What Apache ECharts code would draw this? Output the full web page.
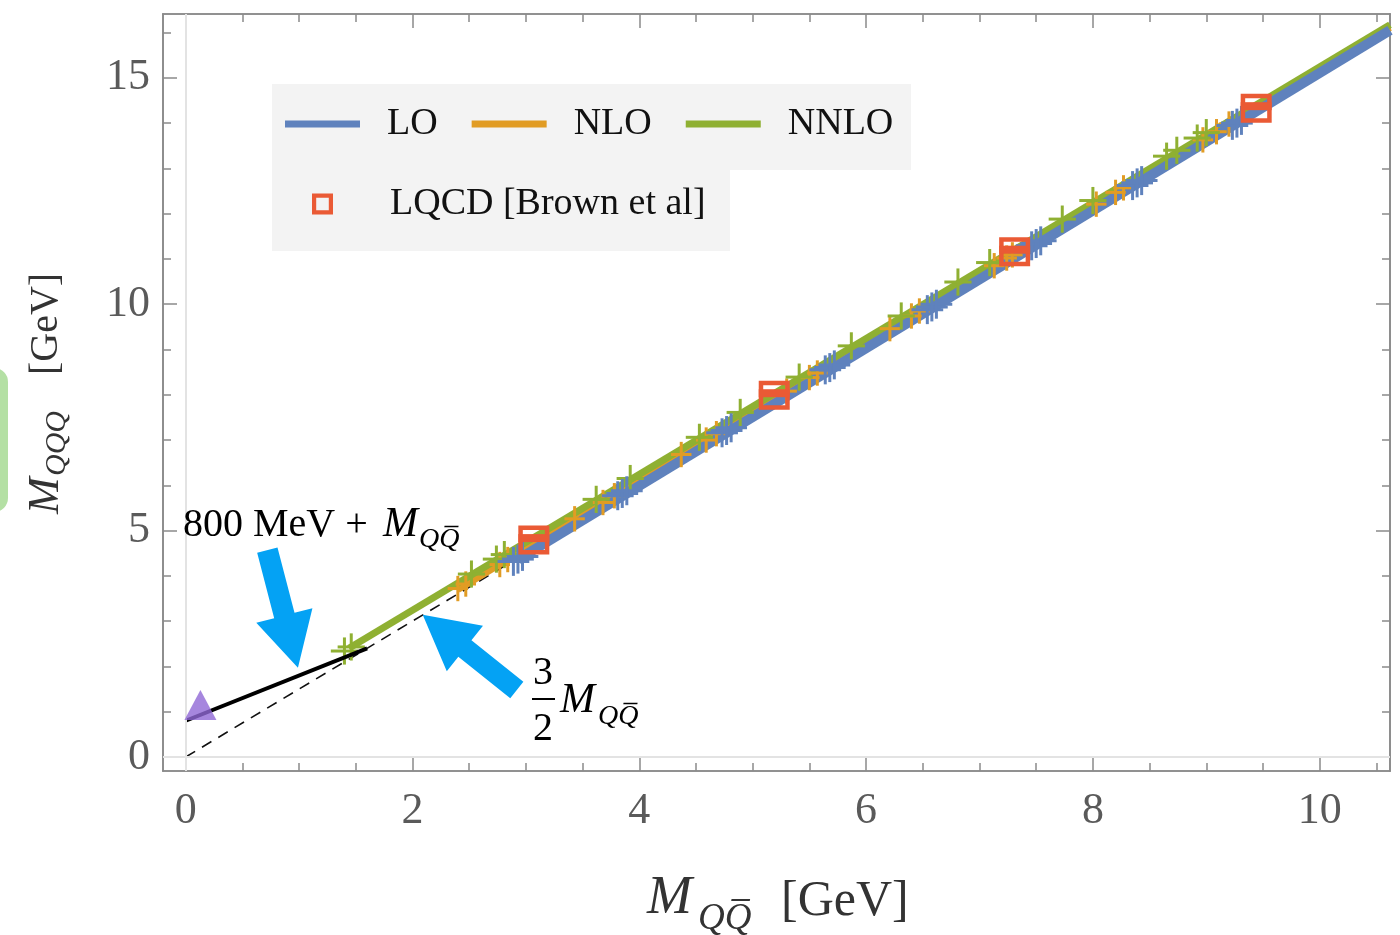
<!DOCTYPE html>
<html>
<head>
<meta charset="utf-8">
<script src="https://cdn.jsdelivr.net/npm/echarts@6/dist/echarts.min.js"></script>
<style>
  html, body { margin: 0; padding: 0; background: #fff; }
  #chart { width: 1400px; height: 935px; }
</style>
</head>
<body>
<div id="chart"></div>
<script>
// ---- data -------------------------------------------------------------
const xTickValues = [0, 2, 4, 6, 8, 10];
const xTickLabels = ['0', '2', '4', '6', '8', '10'];
const xMinorTicks = [0.5, 1, 1.5, 2.5, 3, 3.5, 4.5, 5, 5.5, 6.5, 7, 7.5, 8.5, 9, 9.5, 10.5];
const yTickValues = [0, 5, 10, 15];
const yTickLabels = ['0', '5', '10', '15'];
const yMinorTicks = [1, 2, 3, 4, 6, 7, 8, 9, 11, 12, 13, 14, 16];

// interpolating curves (M_QQbar, M_QQQ) in GeV
const loCurve   = [[2.93, 4.36], [10.62, 16.05]];
const nloCurve  = [[2.40, 3.70], [10.62, 16.11]];
const nnloCurve = [[1.44, 2.40], [10.62, 16.17]];

// computed points with uncertainties
const loPoints = [
  [2.89, 4.32], [2.93, 4.37], [2.97, 4.43],
  [3.81, 5.77], [3.85, 5.82], [3.89, 5.88],
  [4.73, 7.16], [4.77, 7.21], [4.81, 7.27],
  [5.64, 8.55], [5.68, 8.60], [5.72, 8.66],
  [6.54, 9.88], [6.58, 9.94], [6.62, 10.00],
  [7.46, 11.29], [7.50, 11.34], [7.54, 11.40],
  [8.35, 12.62], [8.39, 12.68], [8.43, 12.73],
  [9.23, 13.95], [9.27, 14.00], [9.31, 14.06]
];
const nloPoints = [
  [2.40, 3.72], [2.47, 3.82], [2.77, 4.25], [2.84, 4.36],
  [3.43, 5.26], [3.68, 5.62], [3.78, 5.77],
  [4.37, 6.68], [4.59, 7.00], [4.68, 7.14],
  [5.30, 8.08], [5.50, 8.38], [5.57, 8.48],
  [6.21, 9.46], [6.40, 9.74], [6.47, 9.85],
  [7.13, 10.85], [7.24, 11.02], [7.29, 11.09],
  [8.03, 12.21], [8.20, 12.47], [8.27, 12.57],
  [8.97, 13.63], [9.09, 13.81], [9.20, 13.98]
];
const nnloPoints = [
  [1.40, 2.34], [1.46, 2.43],
  [2.52, 4.04], [2.74, 4.37], [2.81, 4.47],
  [3.62, 5.69], [3.92, 6.15],
  [4.53, 7.06], [4.89, 7.61],
  [5.41, 8.39], [5.87, 9.08],
  [6.31, 9.74], [6.81, 10.49],
  [7.09, 10.92], [7.73, 11.88],
  [8.00, 12.29], [8.65, 13.27], [8.74, 13.40],
  [8.92, 13.67], [9.00, 13.79]
];
const loErr = [0.14, 0.32];     // [dx, dy]
const nloErr = [0.09, 0.28];
const nnloErr = [0.12, 0.30];

// lattice QCD (Brown et al)
const lqcdX = [3.07, 5.19, 7.31, 9.44];
const lqcdY = [4.79, 7.99, 11.16, 14.33];

// reference lines
const offsetLine = [[0, 0.8], [1.6, 2.4]];      // 800 MeV + M_QQbar
const threeHalvesLine = [[0, 0], [2.8, 4.2]];   // 3/2 M_QQbar
const lightPoint = [[0.13, 1.15]];

// annotation arrows (tail -> tip) in data coordinates
const arrows = [
  { from: [0.72, 4.57], to: [0.99, 1.97] },
  { from: [2.92, 1.48], to: [2.09, 3.14] }
];

// ---- styling ------------------------------------------------------------
const LO_COLOR = '#5f82bd';
const NLO_COLOR = '#e19c24';
const NNLO_COLOR = '#8fb032';
const LQCD_COLOR = '#ea5a35';
const ARROW_COLOR = '#04a2f4';
const FRAME = '#8a8a8a';
const SERIF = '"Liberation Serif", "DejaVu Serif", serif';

const X_MIN = -0.2, X_MAX = 10.62, Y_MIN = -0.31, Y_MAX = 16.41;

function withErr(points, err) {
  return points.map(p => [p[0], p[1], err[0], err[1]]);
}

function crossRenderer(color) {
  return function (params, api) {
    const x = api.value(0), y = api.value(1), dx = api.value(2), dy = api.value(3);
    const l = api.coord([x - dx, y]), r = api.coord([x + dx, y]);
    const t = api.coord([x, y + dy]), b = api.coord([x, y - dy]);
    return {
      type: 'group',
      children: [
        { type: 'line', shape: { x1: l[0], y1: l[1], x2: r[0], y2: r[1] }, style: { stroke: color, lineWidth: 3 } },
        { type: 'line', shape: { x1: t[0], y1: t[1], x2: b[0], y2: b[1] }, style: { stroke: color, lineWidth: 3 } }
      ]
    };
  };
}

function renderLqcd(params, api) {
  const c = api.coord([api.value(0), api.value(1)]);
  const w = 31, h = 29, bw = 4.5;
  return {
    type: 'group',
    children: [
      { type: 'rect', shape: { x: c[0] - w / 2 + bw / 2, y: c[1] - h / 2 + bw / 2, width: w - bw, height: h - bw },
        style: { fill: 'none', stroke: LQCD_COLOR, lineWidth: bw } },
      { type: 'rect', shape: { x: c[0] - w / 2, y: c[1] - h / 2 + 8.5, width: w, height: 8 },
        style: { fill: LQCD_COLOR } }
    ]
  };
}

function makeXAxis(position, ticks, len, withLabels) {
  return {
    type: 'value', position: position, min: X_MIN, max: X_MAX,
    axisLine: { show: true, onZero: false, lineStyle: { color: FRAME, width: 1.6 } },
    axisTick: { show: true, inside: true, length: len, customValues: ticks, lineStyle: { color: FRAME, width: 1.5 } },
    axisLabel: withLabels ? {
      show: true, customValues: xTickValues, margin: 18,
      formatter: v => xTickLabels[xTickValues.indexOf(v)],
      fontFamily: SERIF, fontSize: 44, color: '#5a5a5a'
    } : { show: false },
    splitLine: { show: false }
  };
}
function makeYAxis(position, ticks, len, withLabels) {
  return {
    type: 'value', position: position, min: Y_MIN, max: Y_MAX,
    axisLine: { show: true, onZero: false, lineStyle: { color: FRAME, width: 1.6 } },
    axisTick: { show: true, inside: true, length: len, customValues: ticks, lineStyle: { color: FRAME, width: 1.5 } },
    axisLabel: withLabels ? {
      show: true, customValues: yTickValues, margin: 13,
      formatter: v => yTickLabels[yTickValues.indexOf(v)],
      fontFamily: SERIF, fontSize: 44, color: '#5a5a5a'
    } : { show: false },
    splitLine: { show: false }
  };
}

const chart = echarts.init(document.getElementById('chart'));

chart.setOption({
  animation: false,
  backgroundColor: '#ffffff',
  grid: { left: 163, right: 10, top: 14, bottom: 164, outerBoundsMode: 'none' },
  xAxis: [
    makeXAxis('bottom', xTickValues, 14, true),
    makeXAxis('bottom', xMinorTicks, 8, false),
    makeXAxis('top', xTickValues, 14, false),
    makeXAxis('top', xMinorTicks, 8, false)
  ],
  yAxis: [
    makeYAxis('left', yTickValues, 14, true),
    makeYAxis('left', yMinorTicks, 8, false),
    makeYAxis('right', yTickValues, 14, false),
    makeYAxis('right', yMinorTicks, 8, false)
  ],
  legend: [
    {
      left: 285, top: 105, padding: 0, orient: 'horizontal',
      itemWidth: 75, itemHeight: 7, itemGap: 34, selectedMode: false, z: 10,
      icon: 'rect',
      itemStyle: { borderWidth: 0 },
      textStyle: { fontFamily: SERIF, fontSize: 38, color: '#111', padding: [0, 0, 0, 22] },
      data: [
        { name: 'LO', itemStyle: { color: LO_COLOR, borderWidth: 0 } },
        { name: 'NLO', itemStyle: { color: NLO_COLOR, borderWidth: 0 } },
        { name: 'NNLO', itemStyle: { color: NNLO_COLOR, borderWidth: 0 } }
      ]
    },
    {
      left: 312, top: 185, padding: 0,
      itemWidth: 21, itemHeight: 21, selectedMode: false, z: 10,
      textStyle: { fontFamily: SERIF, fontSize: 38, color: '#111', padding: [0, 0, 0, 52] },
      data: [
        { name: 'LQCD [Brown et al]', icon: 'path://M0,0H10V10H0Z M2,2V8H8V2Z',
          itemStyle: { color: LQCD_COLOR, borderWidth: 0 } }
      ]
    }
  ],
  series: [
    { // faint coordinate axes through the origin
      type: 'line', data: [], silent: true, z: 1,
      markLine: {
        silent: true, symbol: 'none', label: { show: false },
        lineStyle: { color: '#e3e3e3', width: 2, type: 'solid' },
        data: [{ xAxis: 0 }, { yAxis: 0 }]
      }
    },
    { type: 'line', data: threeHalvesLine, showSymbol: false, silent: true, z: 2,
      lineStyle: { color: '#111', width: 1.6, type: [11, 8] } },
    { name: 'NLO', type: 'line', data: nloCurve, showSymbol: false, z: 3,
      itemStyle: { color: NLO_COLOR }, lineStyle: { color: NLO_COLOR, width: 7 } },
    { name: 'NNLO', type: 'line', data: nnloCurve, showSymbol: false, z: 3,
      itemStyle: { color: NNLO_COLOR }, lineStyle: { color: NNLO_COLOR, width: 7 } },
    { name: 'LO', type: 'line', data: loCurve, showSymbol: false, z: 3,
      itemStyle: { color: LO_COLOR }, lineStyle: { color: LO_COLOR, width: 10 } },
    { name: 'NLO pts', type: 'custom', renderItem: crossRenderer(NLO_COLOR), data: withErr(nloPoints, nloErr), z: 4, silent: true },
    { name: 'NNLO pts', type: 'custom', renderItem: crossRenderer(NNLO_COLOR), data: withErr(nnloPoints, nnloErr), z: 4, silent: true },
    { name: 'LO pts', type: 'custom', renderItem: crossRenderer(LO_COLOR), data: withErr(loPoints, loErr), z: 4, silent: true },
    { type: 'line', data: offsetLine, showSymbol: false, silent: true, z: 4,
      lineStyle: { color: '#000', width: 4, cap: 'butt' } },
    { name: 'LQCD [Brown et al]', type: 'custom', renderItem: renderLqcd, z: 5,
      itemStyle: { color: LQCD_COLOR },
      data: lqcdX.map((x, i) => [x, lqcdY[i]]) },
    { type: 'scatter', data: lightPoint, symbol: 'triangle', symbolSize: [32, 30], z: 6, silent: true,
      itemStyle: { color: '#9068d6' } }
  ]
});

// ---- annotations -------------------------------------------------------------
function arrowPolygon(a) {
  const t = chart.convertToPixel({ xAxisIndex: 0, yAxisIndex: 0 }, a.from);
  const p = chart.convertToPixel({ xAxisIndex: 0, yAxisIndex: 0 }, a.to);
  const dx = p[0] - t[0], dy = p[1] - t[1];
  const len = Math.hypot(dx, dy);
  const ux = dx / len, uy = dy / len, nx = -uy, ny = ux;
  const headLen = 54, headHalf = 29, shaftHalf = 10.5;
  const bx = p[0] - ux * headLen, by = p[1] - uy * headLen;
  return [
    [t[0] + nx * shaftHalf, t[1] + ny * shaftHalf],
    [bx + nx * shaftHalf, by + ny * shaftHalf],
    [bx + nx * headHalf, by + ny * headHalf],
    [p[0], p[1]],
    [bx - nx * headHalf, by - ny * headHalf],
    [bx - nx * shaftHalf, by - ny * shaftHalf],
    [t[0] - nx * shaftHalf, t[1] - ny * shaftHalf]
  ];
}

function txt(x, y, text, size, opts) {
  return Object.assign({
    type: 'text', x: x, y: y, z: 50,
    style: Object.assign({
      text: text, fontFamily: SERIF, fontSize: size, fill: '#000',
      align: 'left', verticalAlign: 'middle'
    }, (opts && opts.style) || {})
  }, (opts && opts.el) || {});
}
const ital = c => ({ style: { fontStyle: 'italic', fill: c || '#000' } });

const graphics = [
  // legend backdrop
  { type: 'rect', shape: { x: 272, y: 84, width: 639, height: 86 }, style: { fill: '#f3f3f3' }, z: 0 },
  { type: 'rect', shape: { x: 272, y: 170, width: 458, height: 81 }, style: { fill: '#f3f3f3' }, z: 0 },
  // rounded tab at the left margin
  { type: 'rect', shape: { x: -22, y: 368, width: 30, height: 144, r: 14 }, style: { fill: '#b4e0a4' }, z: 0 },

  // 800 MeV + M_QQbar
  txt(183, 525, '800 MeV +', 40),
  txt(383, 525, 'M', 42, ital()),
  txt(419, 540, 'QQ\u0305', 28, ital()),

  // 3/2 M_QQbar
  txt(543, 673, '3', 40, { style: { align: 'center' } }),
  { type: 'line', shape: { x1: 532, y1: 699, x2: 555, y2: 699 }, style: { stroke: '#000', lineWidth: 2 }, z: 50 },
  txt(543, 729, '2', 40, { style: { align: 'center' } }),
  txt(560, 701, 'M', 42, ital()),
  txt(598, 717, 'QQ\u0305', 28, ital()),

  // x-axis title
  txt(647, 899, 'M', 54, ital('#333')),
  txt(698, 919, 'QQ\u0305', 37, ital('#333')),
  txt(781, 902, '[GeV]', 50, { style: { fill: '#333' } }),

  // y-axis title (rotated)
  {
    type: 'group', x: 46, y: 394, rotation: Math.PI / 2, z: 50,
    children: [
      txt(-120, 0, 'M', 44, ital('#333')),
      txt(-82, 11, 'QQQ', 30, ital('#333')),
      txt(19, 0, '[GeV]', 40, { style: { fill: '#333' } })
    ]
  }
];

arrows.forEach(a => {
  graphics.push({
    type: 'polygon', z: 60,
    shape: { points: arrowPolygon(a) },
    style: { fill: ARROW_COLOR }
  });
});

chart.setOption({ graphic: graphics });
</script>
</body>
</html>
